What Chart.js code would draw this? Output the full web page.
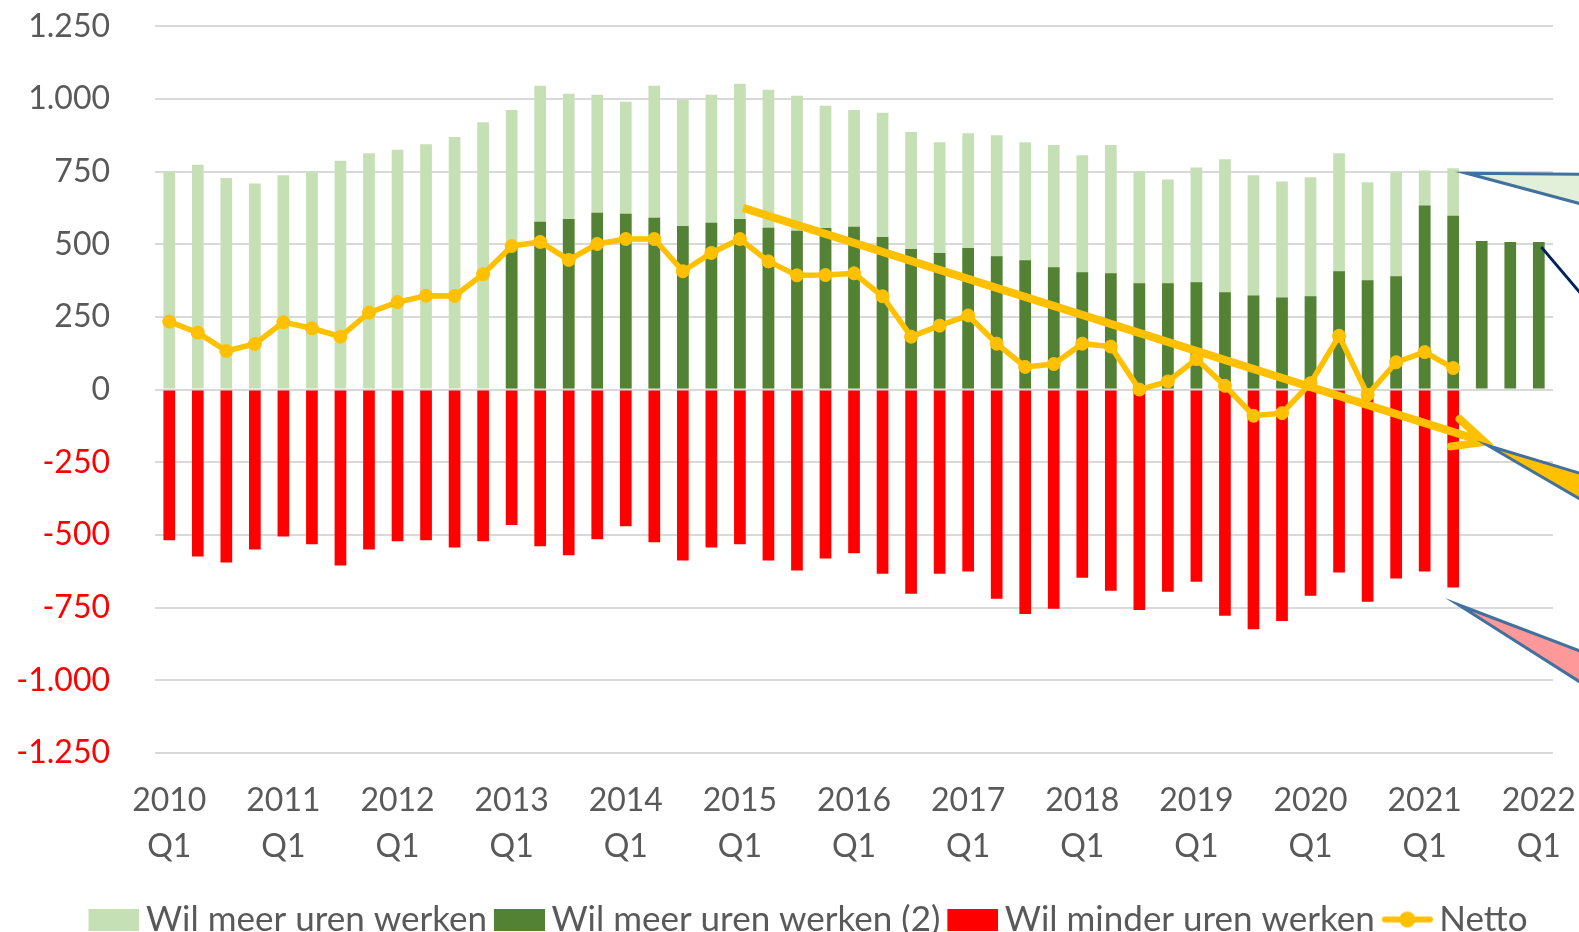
<!DOCTYPE html>
<html>
<head>
<meta charset="utf-8">
<script src="https://cdn.jsdelivr.net/npm/chart.js@4.4.0/dist/chart.umd.min.js"></script>
<style>
html,body{margin:0;padding:0;background:#fff;overflow:hidden}
#wrap{width:1579px;height:932px;position:relative}
</style>
</head>
<body>
<div id="wrap"><canvas id="c" width="1579" height="932"></canvas></div>
<script>
// ---------- DATA ----------
const categories = [
  '2010 Q1','2010 Q2','2010 Q3','2010 Q4',
  '2011 Q1','2011 Q2','2011 Q3','2011 Q4',
  '2012 Q1','2012 Q2','2012 Q3','2012 Q4',
  '2013 Q1','2013 Q2','2013 Q3','2013 Q4',
  '2014 Q1','2014 Q2','2014 Q3','2014 Q4',
  '2015 Q1','2015 Q2','2015 Q3','2015 Q4',
  '2016 Q1','2016 Q2','2016 Q3','2016 Q4',
  '2017 Q1','2017 Q2','2017 Q3','2017 Q4',
  '2018 Q1','2018 Q2','2018 Q3','2018 Q4',
  '2019 Q1','2019 Q2','2019 Q3','2019 Q4',
  '2020 Q1','2020 Q2','2020 Q3','2020 Q4',
  '2021 Q1','2021 Q2','2021 Q3','2021 Q4',
  '2022 Q1'
];

const seriesNames = ['Wil meer uren werken', 'Wil meer uren werken (2)', 'Wil minder uren werken', 'Netto'];

// Wil meer uren werken (total)
const meerUren = [750,773,728,709,737,748,787,813,825,844,869,920,
  962,1045,1018,1014,990,1045,997,1014,1052,1031,1011,976,
  962,952,886,851,882,875,851,841,806,841,751,723,
  764,792,737,716,730,813,713,747,754,761,null,null,null];

// Wil meer uren werken (2) (new definition)
const meerUren2 = [null,null,null,null,null,null,null,null,null,null,null,null,
  490,577,587,608,605,591,563,574,587,557,546,556,
  560,525,484,470,487,459,445,421,404,400,366,366,
  369,335,324,317,321,407,376,390,633,598,511,508,508];

// Wil minder uren werken
const minderUren = [-518,-574,-595,-550,-505,-532,-605,-550,-522,-518,-543,-522,
  -466,-539,-570,-515,-470,-525,-588,-543,-532,-588,-622,-581,
  -563,-633,-702,-633,-626,-719,-772,-754,-647,-692,-758,-695,
  -661,-778,-824,-796,-709,-629,-730,-650,-626,-681];

// Netto
const netto = [234,196,133,157,232,211,182,265,301,323,322,397,
  494,508,446,501,518,518,407,470,518,441,393,394,
  400,321,182,220,255,158,78,88,158,148,0,28,
  105,13,-90,-81,22,185,-18,94,129,74];

const yTickMin = -1250, yTickMax = 1250, yTickStep = 250;

// trend arrow (category index, value)
const trendLine = [[20.11, 625], [46.1, -180]];

// ---------- helpers ----------
function fmtNL(v) {
  const s = Math.abs(v).toString().replace(/\B(?=(\d{3})+(?!\d))/g, '.');
  return (v < 0 ? '-' : '') + s;
}

const GREY = '#595959';
const YELLOW = '#FFC000';
const COLORS = ['#C5E0B4', '#548235', '#FF0000'];

// legend symbols (images; left transparent margin shifts the symbol left)
const SYM_W = 59, SYM_OFF = 8, SYM_H = 22;
function boxImage(color) {
  const cv = document.createElement('canvas');
  cv.width = SYM_W; cv.height = SYM_H;
  const c = cv.getContext('2d');
  c.fillStyle = color; c.fillRect(SYM_OFF, 0, SYM_W - SYM_OFF, SYM_H);
  return cv;
}
function lineImage(color) {
  const cv = document.createElement('canvas');
  cv.width = SYM_W; cv.height = SYM_H;
  const c = cv.getContext('2d');
  c.strokeStyle = color; c.lineWidth = 6; c.lineCap = 'round';
  c.beginPath(); c.moveTo(SYM_OFF + 3, 11); c.lineTo(SYM_W - 3, 11); c.stroke();
  c.fillStyle = color; c.beginPath(); c.arc((SYM_OFF + SYM_W) / 2, 11, 8, 0, Math.PI * 2); c.fill();
  return cv;
}

// annotation styling (callouts cut off at the right edge)
const callouts = [
  { tip: [45.47, 744],  far: [[168, 1.5], [168, 45]],  fill: '#E2F0D9' },
  { tip: [46.23, -193], far: [[136, 41],  [136, 79]],  fill: '#FFC000' },
  { tip: [45.18, -740], far: [[181, 69],  [181, 115]], fill: '#FF9999' }
];
const pointer = { from: [48.09, 490], dir: [56, 66], color: '#002060' };

const annotationPlugin = {
  id: 'annot',
  afterDatasetsDraw(chart) {
    const { ctx, scales: { x, y } } = chart;
    const x1 = x.getPixelForValue(trendLine[0][0]), y1 = y.getPixelForValue(trendLine[0][1]);
    const x2 = x.getPixelForValue(trendLine[1][0]), y2 = y.getPixelForValue(trendLine[1][1]);
    const ang = Math.atan2(y2 - y1, x2 - x1);
    ctx.save();
    ctx.strokeStyle = YELLOW;
    ctx.lineWidth = 8;
    ctx.lineCap = 'butt';
    ctx.beginPath();
    ctx.moveTo(x1, y1);
    ctx.lineTo(x2 - 6 * Math.cos(ang), y2 - 6 * Math.sin(ang));
    ctx.stroke();
    const L = 34, a = 25 * Math.PI / 180;
    ctx.lineCap = 'round';
    ctx.lineJoin = 'miter';
    ctx.beginPath();
    ctx.moveTo(x2 - L * Math.cos(ang - a), y2 - L * Math.sin(ang - a));
    ctx.lineTo(x2, y2);
    ctx.lineTo(x2 - L * Math.cos(ang + a), y2 - L * Math.sin(ang + a));
    ctx.stroke();
    ctx.restore();
  },
  afterDraw(chart) {
    const { ctx, scales: { x, y } } = chart;
    ctx.save();
    callouts.forEach(c => {
      const tx = x.getPixelForValue(c.tip[0]), ty = y.getPixelForValue(c.tip[1]);
      ctx.beginPath();
      ctx.moveTo(tx, ty);
      ctx.lineTo(tx + c.far[0][0], ty + c.far[0][1]);
      ctx.lineTo(tx + c.far[1][0], ty + c.far[1][1]);
      ctx.closePath();
      ctx.fillStyle = c.fill;
      ctx.fill();
      ctx.lineWidth = 3;
      ctx.strokeStyle = '#41719C';
      ctx.lineJoin = 'miter';
      ctx.stroke();
    });
    const px = x.getPixelForValue(pointer.from[0]), py = y.getPixelForValue(pointer.from[1]);
    ctx.beginPath();
    ctx.moveTo(px, py);
    ctx.lineTo(px + pointer.dir[0], py + pointer.dir[1]);
    ctx.strokeStyle = pointer.color;
    ctx.lineWidth = 3;
    ctx.stroke();
    ctx.restore();
  }
};

const FONT = 'Lato';
const TRANSPARENT = 'rgba(0,0,0,0)';

new Chart(document.getElementById('c'), {
  type: 'bar',
  data: {
    labels: categories,
    datasets: [
      { label: seriesNames[0], data: meerUren, backgroundColor: COLORS[0], borderWidth: 0, order: 3,
        barPercentage: 0.41, categoryPercentage: 1.0 },
      { label: seriesNames[1], data: meerUren2, backgroundColor: COLORS[1], borderWidth: 0, order: 2,
        barPercentage: 0.41, categoryPercentage: 1.0 },
      { label: seriesNames[2], data: minderUren, backgroundColor: COLORS[2], borderWidth: 0, order: 4,
        barPercentage: 0.41, categoryPercentage: 1.0 },
      { label: seriesNames[3], type: 'line', data: netto, borderColor: YELLOW, backgroundColor: YELLOW,
        borderWidth: 5.5, pointRadius: 6.5, pointBorderWidth: 1, pointBackgroundColor: YELLOW,
        pointBorderColor: YELLOW, borderCapStyle: 'round', tension: 0, order: 0 }
    ]
  },
  options: {
    responsive: false,
    animation: false,
    devicePixelRatio: 1,
    layout: { padding: { left: 10, right: -30, top: 26, bottom: 0 } },
    scales: {
      x: {
        stacked: true,
        offset: true,
        grid: { display: true, color: TRANSPARENT, drawTicks: true, tickLength: 22, tickColor: TRANSPARENT },
        border: { display: false },
        afterFit: s => { s.height = 139; },
        ticks: {
          autoSkip: false, maxRotation: 0, minRotation: 0, padding: 3,
          color: GREY,
          font: { family: FONT, size: 32, lineHeight: 1.4375 },
          callback: (val, idx) => {
            const parts = categories[idx].split(' ');
            return parts[1] === 'Q1' ? [parts[0], parts[1]] : '';
          }
        }
      },
      y: {
        stacked: false,
        min: yTickMin, max: yTickMax,
        grid: { color: '#D9D9D9', lineWidth: 2, drawTicks: true, tickLength: 38, tickColor: TRANSPARENT },
        border: { display: false },
        afterFit: s => { s.width = 145; },
        ticks: {
          stepSize: yTickStep, padding: 7,
          font: { family: FONT, size: 32 },
          color: c => (c.tick && c.tick.value < 0) ? '#FF0000' : GREY,
          callback: v => fmtNL(v)
        }
      }
    },
    plugins: {
      tooltip: { enabled: false },
      legend: {
        position: 'bottom',
        maxHeight: 40,
        labels: {
          usePointStyle: true,
          pointStyleWidth: 37,
          boxHeight: 22,
          padding: 10,
          color: GREY,
          font: { family: FONT, size: 35 },
          generateLabels(chart) {
            const items = Chart.defaults.plugins.legend.labels.generateLabels(chart);
            items.forEach(it => {
              const ds = chart.data.datasets[it.datasetIndex];
              it.pointStyle = ds.type === 'line' ? lineImage(YELLOW) : boxImage(ds.backgroundColor);
              it.lineWidth = 0;
            });
            return items;
          },
          sort: (a, b) => a.datasetIndex - b.datasetIndex
        }
      }
    }
  },
  plugins: [annotationPlugin]
});
</script>
</body>
</html>
